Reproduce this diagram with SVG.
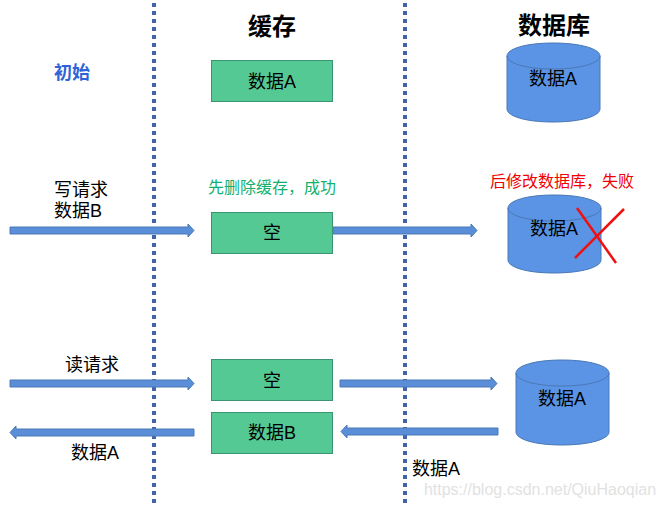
<svg xmlns="http://www.w3.org/2000/svg" width="663" height="508" viewBox="0 0 663 508">
<style>
text{font-family:"Liberation Sans","Noto Sans CJK SC",sans-serif;fill:#000;text-anchor:middle}
.t{font-size:18px}
.h{font-size:24px;font-weight:bold}
.box{fill:#55c994;stroke:#3b9571;stroke-width:1}
.cyl{fill:#5b94e5;stroke:#4a78b5;stroke-width:1}
.div{stroke:#3f64ab;stroke-width:4;stroke-dasharray:4 4;fill:none}
.arr{fill:#5b8ed8;stroke:#4a78b5;stroke-width:1}
.x{stroke:#f01010;stroke-width:2.500;fill:none}
</style>
<rect width="663" height="508" fill="#fff"/>
<g id="dividers">
<line class="div" x1="154" y1="3" x2="154" y2="504"/>
<line class="div" x1="405" y1="3" x2="405" y2="504"/>
</g>
<g id="connectors">
<path id="a1" class="arr" d="M10 227H188V224L194 230.500L188 237V234H10Z"/>
<path id="a2" class="arr" d="M333 227H471V224L477 230.500L471 237V234H333Z"/>
<path id="a3" class="arr" d="M10 380H188V377L194 383.500L188 390V387H10Z"/>
<path id="a4" class="arr" d="M340 380H491V377L497 383.500L491 390V387H340Z"/>
<path id="a5" class="arr" d="M194 429H16V426L10 432.500L16 439V436H194Z"/>
<path id="a6" class="arr" d="M498 428H347V425L341 431.500L347 438V435H498Z"/>
</g>
<g id="head-cache"><text class="h" x="272" y="35">缓存</text></g>
<g id="head-db"><text class="h" x="554" y="34">数据库</text></g>
<g id="label-init"><text x="72" y="79" font-size="18" font-weight="bold" style="fill:#2f63d6">初始</text></g>
<g id="cache-a"><rect class="box" x="211.500" y="60.500" width="121" height="41"/><text class="t" x="272" y="88">数据A</text></g>
<g id="db-a">
<path class="cyl" d="M507 56V109C507 116 525 122 553 122C581 122 600 116 600 109V56C600 49 581 43 553 43C525 43 507 49 507 56Z"/>
<path class="cyl" style="fill:none" d="M507 56C507 63 525 69 553 69C581 69 600 63 600 56"/>
<text class="t" x="553" y="85">数据A</text>
</g>
<g id="write-label">
<text class="t" x="81" y="196">写请求</text>
<text class="t" x="78" y="217">数据B</text>
</g>
<g id="note-cache"><text x="272" y="193" font-size="16" style="fill:#12b070">先删除缓存，成功</text></g>
<g id="note-db"><text x="562" y="187" font-size="16" style="fill:#f00000">后修改数据库，失败</text></g>
<g id="cache-empty1"><rect class="box" x="211.500" y="212.500" width="121" height="41"/><text class="t" x="272" y="239">空</text></g>
<g id="db-fail">
<path class="cyl" d="M508 208V260C508 267 526 273 554 273C582 273 601 267 601 260V208C601 201 582 195 554 195C526 195 508 201 508 208Z"/>
<path class="cyl" style="fill:none" d="M508 208C508 215 526 221 554 221C582 221 601 215 601 208"/>
<text class="t" x="554" y="235">数据A</text>
<line class="x" x1="577" y1="208" x2="616" y2="263"/>
<line class="x" x1="575" y1="258" x2="624" y2="209"/>
</g>
<g id="read-label"><text class="t" x="92" y="371">读请求</text></g>
<g id="cache-empty2"><rect class="box" x="211.500" y="359.500" width="121" height="41"/><text class="t" x="272" y="387">空</text></g>
<g id="cache-b"><rect class="box" x="211.500" y="412.500" width="121" height="41"/><text class="t" x="272" y="439">数据B</text></g>
<g id="db-read">
<path class="cyl" d="M516 373V432C516 439 534 445 562 445C590 445 609 439 609 432V373C609 366 590 360 562 360C534 360 516 366 516 373Z"/>
<path class="cyl" style="fill:none" d="M516 373C516 380 534 386 562 386C590 386 609 380 609 373"/>
<text class="t" x="562" y="405">数据A</text>
</g>
<g id="label-a-left"><text class="t" x="95" y="459">数据A</text></g>
<g id="label-a-right"><text class="t" x="436" y="475">数据A</text></g>
<g id="watermark"><text x="540" y="495" font-size="16" style="fill:#e2e2e2">https://blog.csdn.net/QiuHaoqian</text></g>
</svg>
